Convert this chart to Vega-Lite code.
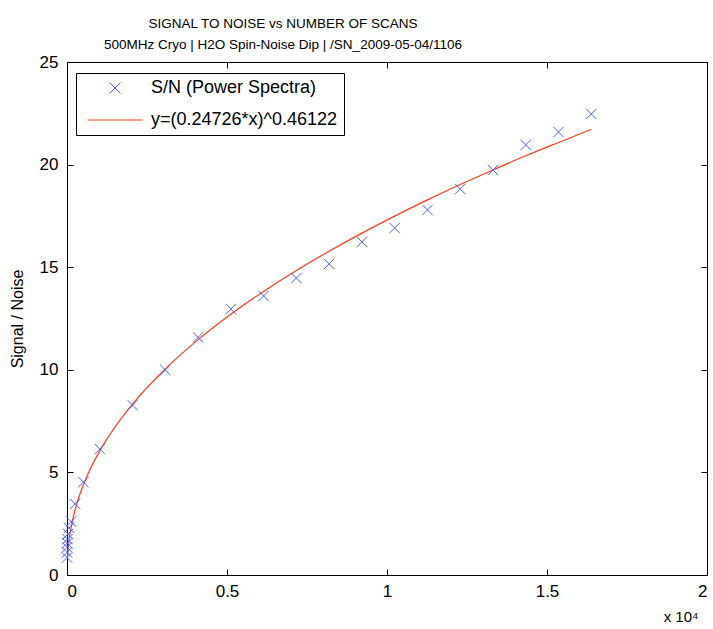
{
  "$schema": "https://vega.github.io/schema/vega-lite/v6.json",
  "width": 640,
  "height": 513,
  "autosize": {"type": "none"},
  "padding": {"left": 67, "top": 62, "right": 6, "bottom": 54},
  "background": "white",
  "title": {
    "text": ["SIGNAL TO NOISE vs NUMBER OF SCANS", "500MHz Cryo | H2O Spin-Noise Dip | /SN_2009-05-04/1106"],
    "font": "Liberation Sans",
    "fontSize": 13.5,
    "fontWeight": "normal",
    "color": "black",
    "lineHeight": 21,
    "anchor": "middle",
    "dx": -104,
    "offset": 2
  },
  "datasets": {
    "measured": [
      {"scans": 1, "sn": 0.85, "series": "S/N (Power Spectra)"},
      {"scans": 2, "sn": 1.1, "series": "S/N (Power Spectra)"},
      {"scans": 4, "sn": 1.35, "series": "S/N (Power Spectra)"},
      {"scans": 8, "sn": 1.55, "series": "S/N (Power Spectra)"},
      {"scans": 16, "sn": 1.75, "series": "S/N (Power Spectra)"},
      {"scans": 32, "sn": 2.0, "series": "S/N (Power Spectra)"},
      {"scans": 64, "sn": 2.3, "series": "S/N (Power Spectra)"},
      {"scans": 128, "sn": 2.6, "series": "S/N (Power Spectra)"},
      {"scans": 256, "sn": 3.46, "series": "S/N (Power Spectra)"},
      {"scans": 512, "sn": 4.53, "series": "S/N (Power Spectra)"},
      {"scans": 1024, "sn": 6.14, "series": "S/N (Power Spectra)"},
      {"scans": 2048, "sn": 8.28, "series": "S/N (Power Spectra)"},
      {"scans": 3072, "sn": 9.99, "series": "S/N (Power Spectra)"},
      {"scans": 4096, "sn": 11.58, "series": "S/N (Power Spectra)"},
      {"scans": 5120, "sn": 12.96, "series": "S/N (Power Spectra)"},
      {"scans": 6144, "sn": 13.6, "series": "S/N (Power Spectra)"},
      {"scans": 7168, "sn": 14.47, "series": "S/N (Power Spectra)"},
      {"scans": 8192, "sn": 15.16, "series": "S/N (Power Spectra)"},
      {"scans": 9216, "sn": 16.23, "series": "S/N (Power Spectra)"},
      {"scans": 10240, "sn": 16.91, "series": "S/N (Power Spectra)"},
      {"scans": 11264, "sn": 17.79, "series": "S/N (Power Spectra)"},
      {"scans": 12288, "sn": 18.81, "series": "S/N (Power Spectra)"},
      {"scans": 13312, "sn": 19.74, "series": "S/N (Power Spectra)"},
      {"scans": 14336, "sn": 20.96, "series": "S/N (Power Spectra)"},
      {"scans": 15360, "sn": 21.59, "series": "S/N (Power Spectra)"},
      {"scans": 16384, "sn": 22.47, "series": "S/N (Power Spectra)"}
    ],
    "fit": [
      {"scans": 12, "sn": 0.78, "series": "y=(0.24726*x)^0.46122"},
      {"scans": 32, "sn": 1.22, "series": "y=(0.24726*x)^0.46122"},
      {"scans": 64, "sn": 1.68, "series": "y=(0.24726*x)^0.46122"},
      {"scans": 128, "sn": 2.32, "series": "y=(0.24726*x)^0.46122"},
      {"scans": 256, "sn": 3.19, "series": "y=(0.24726*x)^0.46122"},
      {"scans": 384, "sn": 3.85, "series": "y=(0.24726*x)^0.46122"},
      {"scans": 512, "sn": 4.39, "series": "y=(0.24726*x)^0.46122"},
      {"scans": 768, "sn": 5.3, "series": "y=(0.24726*x)^0.46122"},
      {"scans": 1024, "sn": 6.05, "series": "y=(0.24726*x)^0.46122"},
      {"scans": 1536, "sn": 7.29, "series": "y=(0.24726*x)^0.46122"},
      {"scans": 2048, "sn": 8.33, "series": "y=(0.24726*x)^0.46122"},
      {"scans": 3072, "sn": 10.04, "series": "y=(0.24726*x)^0.46122"},
      {"scans": 4096, "sn": 11.47, "series": "y=(0.24726*x)^0.46122"},
      {"scans": 5120, "sn": 12.71, "series": "y=(0.24726*x)^0.46122"},
      {"scans": 6144, "sn": 13.82, "series": "y=(0.24726*x)^0.46122"},
      {"scans": 7168, "sn": 14.84, "series": "y=(0.24726*x)^0.46122"},
      {"scans": 8192, "sn": 15.78, "series": "y=(0.24726*x)^0.46122"},
      {"scans": 9216, "sn": 16.66, "series": "y=(0.24726*x)^0.46122"},
      {"scans": 10240, "sn": 17.49, "series": "y=(0.24726*x)^0.46122"},
      {"scans": 11264, "sn": 18.28, "series": "y=(0.24726*x)^0.46122"},
      {"scans": 12288, "sn": 19.03, "series": "y=(0.24726*x)^0.46122"},
      {"scans": 13312, "sn": 19.74, "series": "y=(0.24726*x)^0.46122"},
      {"scans": 14336, "sn": 20.43, "series": "y=(0.24726*x)^0.46122"},
      {"scans": 15360, "sn": 21.08, "series": "y=(0.24726*x)^0.46122"},
      {"scans": 16384, "sn": 21.72, "series": "y=(0.24726*x)^0.46122"}
    ]
  },
  "layer": [
    {
      "data": {"name": "fit"},
      "mark": {"type": "line", "strokeWidth": 1.2, "interpolate": "monotone"},
      "encoding": {
        "x": {"field": "scans", "type": "quantitative", "scale": {"domain": [0, 20000], "nice": false},
              "axis": {"orient": "top", "labels": false, "title": null, "values": [0, 5000, 10000, 15000, 20000]}},
        "y": {"field": "sn", "type": "quantitative", "scale": {"domain": [0, 25], "nice": false},
              "axis": {"orient": "right", "labels": false, "title": null, "values": [0, 5, 10, 15, 20, 25]}},
        "color": {
          "field": "series", "type": "nominal",
          "scale": {"domain": ["S/N (Power Spectra)", "y=(0.24726*x)^0.46122"], "range": ["#4262ff", "#ff3b1f"]},
          "legend": {
            "title": null,
            "orient": "none",
            "legendX": 9,
            "legendY": 11,
            "padding": 6,
            "strokeColor": "black",
            "fillColor": "white",
            "symbolSize": 121,
            "symbolOffset": 24,
            "labelOffset": 27,
            "labelLimit": 0,
            "labelFont": "Liberation Sans",
            "labelFontSize": 18,
            "labelColor": "black",
            "rowPadding": 14,
            "encode": {
              "symbols": {
                "update": {
                  "shape": {"signal": "datum.value === 'S/N (Power Spectra)' ? 'M-1,-1L1,1M-1,1L1,-1' : 'M-5,0L5,0'"},
                  "fill": {"value": "transparent"},
                  "stroke": {"scale": "color", "field": "value"},
                  "strokeWidth": {"value": 1},
                  "opacity": {"value": 1}
                }
              }
            }
          }
        }
      }
    },
    {
      "data": {"name": "measured"},
      "mark": {"type": "point", "shape": "M-1,-1L1,1M-1,1L1,-1", "filled": false, "size": 110, "strokeWidth": 1, "opacity": 1},
      "encoding": {
        "x": {"field": "scans", "type": "quantitative",
              "axis": {"orient": "bottom", "values": [0, 5000, 10000, 15000, 20000], "labelExpr": "datum.value / 10000",
                       "title": "x 10⁴", "titleX": 631, "titleY": 46, "titleAlign": "right", "titleBaseline": "alphabetic", "titleFontSize": 15, "labelPadding": 14}},
        "y": {"field": "sn", "type": "quantitative",
              "axis": {"orient": "left", "values": [0, 5, 10, 15, 20, 25], "title": "Signal / Noise", "titleFontSize": 16, "labelPadding": 15, "titlePadding": 14}},
        "color": {
          "field": "series", "type": "nominal",
          "legend": {
            "title": null,
            "orient": "none",
            "legendX": 9,
            "legendY": 11,
            "padding": 6,
            "strokeColor": "black",
            "fillColor": "white",
            "symbolSize": 121,
            "symbolOffset": 24,
            "labelOffset": 27,
            "labelLimit": 0,
            "labelFont": "Liberation Sans",
            "labelFontSize": 18,
            "labelColor": "black",
            "rowPadding": 14,
            "encode": {
              "symbols": {
                "update": {
                  "shape": {"signal": "datum.value === 'S/N (Power Spectra)' ? 'M-1,-1L1,1M-1,1L1,-1' : 'M-5,0L5,0'"},
                  "fill": {"value": "transparent"},
                  "stroke": {"scale": "color", "field": "value"},
                  "strokeWidth": {"value": 1},
                  "opacity": {"value": 1}
                }
              }
            }
          }
        }
      }
    }
  ],
  "resolve": {"axis": {"x": "independent", "y": "independent"}},
  "config": {
    "view": {"stroke": "black", "strokeWidth": 1},
    "font": "Liberation Sans",
    "axis": {
      "grid": false,
      "domain": false,
      "tickColor": "black",
      "tickSize": -6,
      "tickWidth": 1,
      "labelFont": "Liberation Sans",
      "labelFontSize": 17,
      "labelColor": "black",
      "titleFont": "Liberation Sans",
      "titleFontWeight": "normal",
      "titleColor": "black"
    }
  }
}
